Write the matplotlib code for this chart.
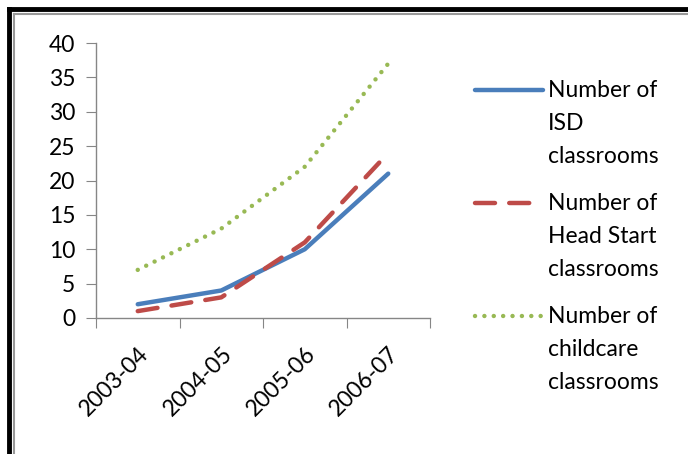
import matplotlib
matplotlib.use('Agg')
from matplotlib import pyplot as plt
from matplotlib.lines import Line2D

years = ['2003-04', '2004-05', '2005-06', '2006-07']
isd = [2, 4, 10, 21]
headStart = [1, 3, 11, 24]
childcare = [7, 13, 22, 37]
labels = ['Number of\nISD\nclassrooms', 'Number of\nHead Start\nclassrooms', 'Number of\nchildcare\nclassrooms']

plt.rcParams['font.family'] = ['Lato', 'DejaVu Sans']
W, H = 688, 454
fig = plt.figure(figsize=(W / 100, H / 100), dpi=100)
ax = fig.add_axes([96 / W, 1 - 318 / H, (430 - 96) / W, (318 - 43) / H])

axisCol = '#868686'
styles = [
    dict(color='#4a7ebb', lw=3.2, ls='-', solid_capstyle='round'),
    dict(color='#be4b48', lw=3.2, ls=(0, (4.5, 3.2)), dash_capstyle='round'),
    dict(color='#98b954', lw=3.2, ls=(0, (0.01, 2.1)), dash_capstyle='round'),
]
x = range(len(years))
for y, st in zip([isd, headStart, childcare], styles):
    ax.plot(x, y, **st)

ax.set_xlim(-0.5, 3.5)
ax.set_ylim(0, 40)
ax.set_yticks(range(0, 41, 5))
ax.set_xticks([-0.5, 0.5, 1.5, 2.5, 3.5], minor=False)
ax.set_xticklabels([])
ax.set_xticks(list(x), minor=True)
ax.set_xticklabels(years, minor=True, rotation=45, ha='right', va='top',
                   rotation_mode='anchor', fontsize=16.5)
ax.tick_params(axis='x', which='minor', length=0, pad=18)
ax.tick_params(axis='x', which='major', length=7, color=axisCol, direction='out')
ax.tick_params(axis='y', length=7, color=axisCol, labelsize=16.5, pad=8)
for s in ['top', 'right']:
    ax.spines[s].set_visible(False)
for s in ['left', 'bottom']:
    ax.spines[s].set_color(axisCol)
    ax.spines[s].set_linewidth(1)

# legend drawn by hand so the line sits on the first text line
for i, (lab, st) in enumerate(zip(labels, styles)):
    yTop = 90 + i * 113
    fig.add_artist(Line2D([475 / W, 543 / W], [1 - yTop / H] * 2, transform=fig.transFigure, **st))
    fig.text(548 / W, 1 - (yTop - 10) / H, lab, fontsize=16.5, va='top', ha='left', linespacing=1.72)

# frame around the picture
fig.add_artist(Line2D([9 / W, 9 / W], [0, 1 - 9 / H], transform=fig.transFigure, color='black', lw=3.5))
fig.add_artist(Line2D([9 / W, 1], [1 - 9 / H] * 2, transform=fig.transFigure, color='black', lw=3.5))
fig.add_artist(Line2D([14 / W, 14 / W], [0, 1 - 14 / H], transform=fig.transFigure, color='#999999', lw=1.5))
fig.add_artist(Line2D([14 / W, 1], [1 - 14 / H] * 2, transform=fig.transFigure, color='#999999', lw=1.5))

fig.savefig('out.png', dpi=100)
